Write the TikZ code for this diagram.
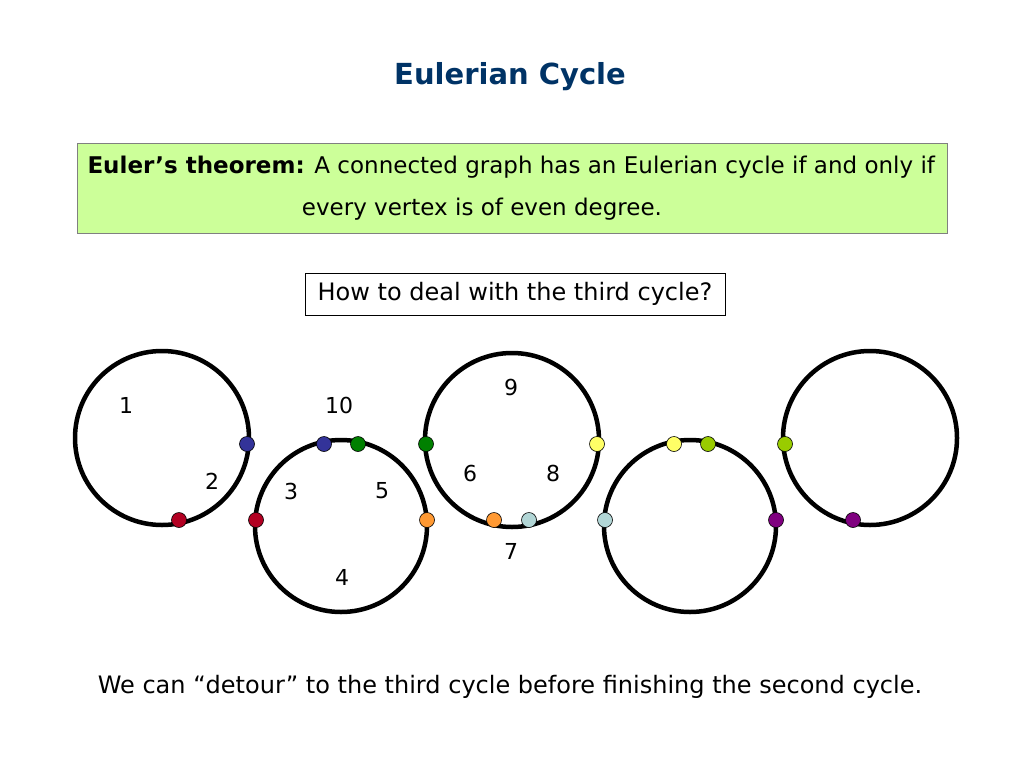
\documentclass[tikz,border=0pt]{standalone}
\usepackage{fontspec}
\setmainfont{DejaVu Sans}
\begin{document}
\begin{tikzpicture}[x=1pt,y=-1pt,
  ring/.style={draw,line width=4.5pt},
  dot/.style={circle,draw,line width=0.6pt,minimum size=15pt,inner sep=0pt},
  lab/.style={font=\fontsize{22}{26}\selectfont},
  txt/.style={font=\fontsize{24}{28}\selectfont}]
\useasboundingbox (0,0) rectangle (1024,768);
\node[font=\fontsize{29}{32}\selectfont\bfseries,text={rgb,255:red,0;green,51;blue,102}] (title) at (510,77) {Eulerian Cycle};
\node[draw=gray,fill={rgb,255:red,204;green,255;blue,153},minimum width=870pt,minimum height=90pt] (thm) at (512,188) {};
\node[font=\fontsize{23}{28}\selectfont,anchor=west] (l1) at (84,167) {\textbf{Euler’s theorem:} A connected graph has an Eulerian cycle if and only if};
\node[font=\fontsize{23}{28}\selectfont] (l2) at (482,209) {every vertex is of even degree.};
\node[txt,draw,minimum width=420pt,minimum height=42pt] (q) at (515,294) {How to deal with the third cycle?};
\node[txt] (bot) at (510,687) {We can “detour” to the third cycle before finishing the second cycle.};
\draw[ring] (162,438) circle (87);
\draw[ring] (341,526) circle (86);
\draw[ring] (512,440) circle (87);
\draw[ring] (690,526) circle (86);
\draw[ring] (870,438) circle (87);
\foreach \x/\y/\c in {247/444/{rgb,255:red,51;green,51;blue,153},324/444/{rgb,255:red,51;green,51;blue,153},
179/520/{rgb,255:red,178;green,0;blue,34},256/520/{rgb,255:red,178;green,0;blue,34},
358/444/{rgb,255:red,0;green,128;blue,0},426/444/{rgb,255:red,0;green,128;blue,0},
427/520/{rgb,255:red,255;green,153;blue,51},494/520/{rgb,255:red,255;green,153;blue,51},
529/520/{rgb,255:red,178;green,214;blue,214},605/520/{rgb,255:red,178;green,214;blue,214},
597/444/{rgb,255:red,255;green,255;blue,102},674/444/{rgb,255:red,255;green,255;blue,102},
708/444/{rgb,255:red,153;green,204;blue,0},785/444/{rgb,255:red,153;green,204;blue,0},
776/520/{rgb,255:red,128;green,0;blue,128},853/520/{rgb,255:red,128;green,0;blue,128}}
  \node[dot,fill=\c] at (\x,\y) {};
\foreach \t/\x/\y in {1/126/405,10/339/405,2/212/481,3/291/491,5/382/491,4/342/577,9/511/387,6/470/473,8/553/473,7/511/551}
  \node[lab] (n\t) at (\x,\y) {\t};
\end{tikzpicture}
\end{document}
